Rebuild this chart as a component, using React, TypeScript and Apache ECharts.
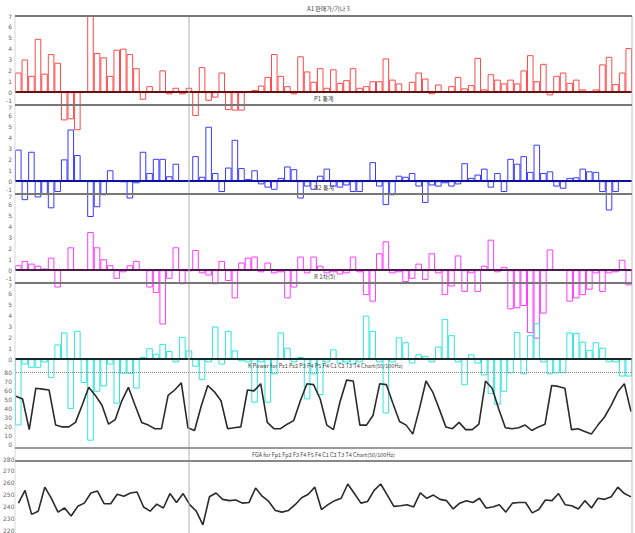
import React, { useEffect, useRef } from "react";
import * as echarts from "echarts";

const categories: string[] = Array.from({ length: 94 }, (_, i) => String(i + 1));

const titleA1 = "A1 판매가/기나 3";
const titleP1 = "P1 통계";
const titleN2 = "N2 통계";
const titleR1 = "R 1차(5)";
const titlePower = "K Power for Pz1 Pz2 P3 P4 P5 P4 C1 C2 T3 T4 Chart(50/100Hz)";
const titleFga = "FGA for Fp1 Fp2 F3 F4 F5 F4 C1 C2 T3 T4 Chart(50/100Hz)";

const a1Values = [
  1.8, 3.0, 1.5, 4.9, 1.7, 3.5, 2.7, -2.6, -2.5, -3.5,
  0, 7.0, 3.6, 3.2, 1.5, 3.9, 4.0, 3.5, 2.2, -0.7,
  0.55, 0, 2.0, -0.2, 0.4, -0.2, 0.4, -2.2, 2.3, -0.8,
  -0.5, 1.8, -1.65, -1.7, -1.7, 0.1, 0.2, 0.6, 1.4, 3.5,
  1.5, 0.55, -0.2, 3.3, 1.9, 0.95, 2.2, 0.4, 2.1, 0.85,
  1.1, 2.2, 0.4, 0.55, 1.0, 1.0, 3.1, 1.15, 0.8, 0,
  0.95, 1.8, 1.25, -0.2, 0.7, 0.1, 0.55, 1.4, 0.35, 0.65,
  3.15, 0.25, 1.65, 1.15, 0.8, 1.15, 0.8, 2.0, 3.4, 1.0,
  2.6, -0.3, 1.5, 1.8, 0.85, 1.15, 0.25, 0, 0.25, 2.55,
  3.25, 0.75, 1.8, 4.05,
];

const p1Values = [
  2.9, -1.75, 2.7, -1.5, -1.2, -2.5, -1.0, 2.0, 4.75, 2.4,
  0, -3.3, -2.4, -1.3, 1.0, 0, -0.1, -1.6, -0.2, 2.7,
  0.75, 2.05, 2.05, 0.45, 1.6, 0, 0, 2.3, 0.4, 5.0,
  0.75, -1.0, 1.25, 3.8, 1.2, 0.2, 1.0, -0.3, -0.6, -0.8,
  0.3, 1.35, 1.1, -1.6, -0.5, -0.8, 0.5, 1.15, -0.5, -0.6,
  -0.4, -1.0, -1.0, 0, 1.75, -0.5, -2.2, -1.3, 0.5, 0.4,
  0.75, -0.5, -2.0, -0.4, -0.5, -0.2, -0.5, -0.3, 1.65, 0.3,
  0.6, 1.15, -0.6, 0.75, -1.0, 2.05, 1.6, 2.3, 0.85, 3.35,
  0.75, 0.9, -0.5, -0.7, 0.3, 0.35, 1.15, 0.9, 0.85, -1.0,
  -2.7, -1.0, 0, 0.1,
];

const n2Values = [
  0.45, 0.85, 0.6, 0.4, 0.15, 1.15, -1.6, 0, 2.1, 0,
  0, 3.5, 2.1, 1.0, 0.45, -0.8, -0.2, 0.45, 0.85, 0,
  -1.6, -2.1, -5.0, -0.8, 2.1, -1.3, -0.1, 1.85, -0.3, -0.5,
  -1.3, 0.85, -1.0, -2.6, 0.7, 1.15, 1.25, -0.2, 0.7, -0.3,
  -0.2, -2.6, -1.6, 1.25, -0.3, 1.25, 0.4, -0.3, -0.2, -0.4,
  -0.3, 1.25, -0.2, -2.3, -2.9, 1.55, 2.65, -0.3, -0.2, -1.1,
  -0.8, 0.6, -0.9, 1.55, -0.3, -2.3, -1.5, 1.35, -2.0, -0.3,
  -2.0, 0.4, 2.8, -0.2, 0.3, -3.6, -3.5, -3.3, -5.8, -6.3,
  -4.0, 1.9, 0.1, 0.1, -2.9, -2.6, -2.3, -1.8, -0.3, -2.0,
  -0.3, -0.2, 0.95, -1.4,
];

const r1Values = [
  -6.1, -0.5, -0.8, -0.8, -0.3, -1.75, 1.35, 2.45, -4.6, 2.6,
  -2.2, -7.5, -3.0, -2.5, -0.5, -4.1, -1.35, -1.35, -2.7, 0.2,
  1.0, 0.5, 1.4, 0.75, -0.3, 2.05, 0.8, -0.7, -1.9, -0.3,
  3.0, -0.5, 2.6, 0.8, -0.2, -0.3, -4.0, -0.3, -4.0, -1.4,
  2.45, 1.05, -0.3, 0.2, -3.7, -1.4, -3.3, -0.3, 0.9, -0.4,
  -0.3, -0.5, -0.3, 4.0, 2.6, -0.3, -5.0, -0.3, 2.0, 1.55,
  -0.4, 0.45, 0.3, -0.3, 1.15, 3.7, 2.2, -0.3, -2.4, 0.45,
  -0.4, -1.5, -3.2, -4.2, -3.0, -1.3, 2.5, -1.4, 2.2, 3.3,
  -0.3, -1.4, -1.3, -1.3, 2.45, 2.4, 1.6, 0.85, 1.55, 1.05,
  -0.3, -0.3, -1.6, -1.6,
];

const powerValues = [
  53, 50, 16, 62, 61, 60, 21, 19, 19, 24,
  43, 63, 54, 43, 22, 27, 48, 63, 43, 24,
  21, 17, 17, 54, 60, 68, 18, 15, 42, 65,
  58, 48, 17, 18, 19, 60, 59, 67, 24, 17,
  17, 22, 26, 48, 67, 66, 50, 21, 16, 47,
  71, 70, 21, 21, 32, 67, 66, 45, 25, 21,
  11, 39, 70, 58, 39, 19, 17, 24, 16, 16,
  22, 70, 62, 39, 18, 17, 18, 21, 15, 19,
  22, 65, 64, 62, 16, 17, 14, 11, 21, 30,
  43, 58, 67, 36,
];

const fgaValues = [
  242.7, 253.5, 233.2, 235.9, 256.2, 246.8, 235.1, 238.6, 231.8, 240,
  242.7, 251.3, 252.9, 242.2, 242.2, 250.2, 248.6, 251.3, 252.1, 239.4,
  235.9, 241.9, 238.6, 250.8, 243.2, 250.8, 241.4, 235.9, 224.3, 248.1,
  251.3, 245.9, 244.8, 245.4, 242.7, 243.2, 255.4, 248.6, 244.1, 236.5,
  235.1, 236.5, 241.4, 247.3, 250.2, 256.2, 237.3, 241.4, 244.8, 246.8,
  258.9, 250.8, 242.7, 244.1, 253.5, 258.9, 249.5, 240, 240.5, 241.4,
  239.5, 251.3, 246.8, 249.5, 245.9, 244.8, 237.8, 242.7, 244.8, 243.2,
  246.8, 238.6, 239.4, 241.4, 235.1, 242.7, 243.2, 243.2, 234.5, 237.3,
  245.4, 244.8, 250.8, 241.4, 240.5, 237.8, 244.8, 238.6, 246.8, 245.9,
  248.1, 256.2, 250.8, 248,
];

export default function App() {
  const ref = useRef<HTMLDivElement>(null);

  useEffect(() => {
    document.body.style.margin = "0";
    const chart = echarts.init(ref.current!, null, { renderer: "svg" });

    const barPanels = [
      { data: a1Values, color: "#ff4a4a", zero: "#6a1010", top: 16 },
      { data: p1Values, color: "#3a3aff", zero: "#1010a0", top: 105 },
      { data: n2Values, color: "#ff3cff", zero: "#4a1a4a", top: 194 },
      { data: r1Values, color: "#30e6dc", zero: "#1a2a2a", top: 283 },
    ];

    const grids: any[] = [];
    const xAxes: any[] = [];
    const yAxes: any[] = [];
    const series: any[] = [];
    const labelStyle = { fontSize: 6, color: "#666", margin: 3, fontFamily: "DejaVu Sans" };
    const richBar = {
      lo: { fontSize: 6, color: "#666", fontFamily: "DejaVu Sans", padding: [0, 0, 5, 0] },
      hi: { fontSize: 6, color: "#666", fontFamily: "DejaVu Sans", padding: [5, 0, 0, 0] },
      n: { fontSize: 6, color: "#666", fontFamily: "DejaVu Sans" },
    };

    barPanels.forEach((p, k) => {
      grids.push({ left: 15, width: 617, top: p.top, height: 87 });
      xAxes.push({ type: "category", gridIndex: k, data: categories, show: false, boundaryGap: true });
      yAxes.push({
        type: "value",
        gridIndex: k,
        min: -1,
        max: 7,
        interval: 1,
        axisLine: { show: false },
        axisTick: { show: false },
        splitLine: { show: false },
        axisLabel: {
          ...labelStyle,
          rich: richBar,
          formatter: (v: number) => {
            if (v < 0) return k === 3 ? "" : "{lo|" + v + "}";
            if (v === 7 && k > 0) return "{hi|" + v + "}";
            return "{n|" + v + "}";
          },
        },
      });
      series.push({
        type: "bar",
        xAxisIndex: k,
        yAxisIndex: k,
        data: p.data,
        barCategoryGap: "0%",
        clip: false,
        itemStyle: { color: "rgba(255,255,255,0)", borderColor: p.color, borderWidth: 1 },
        markLine: {
          silent: true,
          symbol: "none",
          label: { show: false },
          lineStyle: { color: p.zero, width: 2, type: "solid" },
          data: [{ yAxis: 0 }],
        },
      });
    });

    // Power panel
    grids.push({ left: 16, width: 615, top: 372, height: 72 });
    xAxes.push({ type: "category", gridIndex: 4, data: categories, show: false, boundaryGap: false });
    yAxes.push({
      type: "value",
      gridIndex: 4,
      min: 0,
      max: 80,
      interval: 10,
      axisLine: { show: false },
      axisTick: { show: false },
      splitLine: { show: false },
      axisLabel: { ...labelStyle, margin: 4 },
    });
    series.push({
      type: "line",
      xAxisIndex: 4,
      yAxisIndex: 4,
      data: powerValues,
      symbol: "none",
      lineStyle: { color: "#2a2a2a", width: 1.6 },
      markLine: {
        silent: true,
        symbol: "none",
        label: { show: false },
        lineStyle: { color: "#888", width: 1, type: "dotted" },
        data: [{ yAxis: 80 }],
      },
    });

    // FGA panel
    grids.push({ left: 16, width: 615, top: 459, height: 74 });
    xAxes.push({ type: "category", gridIndex: 5, data: categories, show: false, boundaryGap: false });
    yAxes.push({
      type: "value",
      gridIndex: 5,
      min: 220,
      max: 280,
      interval: 10,
      axisLine: { show: false },
      axisTick: { show: false },
      splitLine: { show: false },
      axisLabel: { ...labelStyle, margin: 4 },
    });
    series.push({
      type: "line",
      xAxisIndex: 5,
      yAxisIndex: 5,
      data: fgaValues,
      symbol: "none",
      lineStyle: { color: "#2a2a2a", width: 1.6 },
    });

    const titleStyle = { fontSize: 6, fontWeight: "normal", color: "#444", fontFamily: "Noto Sans CJK KR" };
    const titles = [
      { text: titleA1, left: 307, top: 5, textStyle: titleStyle, padding: 0 },
      { text: titleP1, left: 314, top: 95, textStyle: titleStyle, padding: 0 },
      { text: titleN2, left: 314, top: 184, textStyle: titleStyle, padding: 0 },
      { text: titleR1, left: 314, top: 273, textStyle: titleStyle, padding: 0 },
      { text: titlePower, left: 248, top: 363, textStyle: { ...titleStyle, fontSize: 5.5 }, padding: 0 },
      { text: titleFga, left: 252, top: 452, textStyle: { ...titleStyle, fontSize: 5.5 }, padding: 0 },
    ];

    const hLine = (y: number, color = "#777", w = 2) => ({
      type: "line",
      silent: true,
      z: 50,
      shape: { x1: 15, y1: y, x2: 632, y2: y },
      style: { stroke: color, lineWidth: w },
    });
    const vLine = (x: number, color: string) => ({
      type: "line",
      silent: true,
      z: 40,
      shape: { x1: x, y1: 16, x2: x, y2: 533 },
      style: { stroke: color, lineWidth: 1 },
    });

    chart.setOption({
      animation: false,
      backgroundColor: "#ffffff",
      title: titles,
      grid: grids,
      xAxis: xAxes,
      yAxis: yAxes,
      series,
      graphic: [
        vLine(15, "#d8d8d8"),
        vLine(189, "#b0b0b0"),
        vLine(632, "#c0c0c0"),
        hLine(16),
        hLine(105),
        hLine(194),
        hLine(283),
        hLine(448, "#999"),
        hLine(461, "#888"),
      ],
    });

    return () => chart.dispose();
  }, []);

  return (
    <div
      ref={ref}
      style={{ position: "absolute", left: 0, top: 0, width: 635, height: 533 }}
    />
  );
}
